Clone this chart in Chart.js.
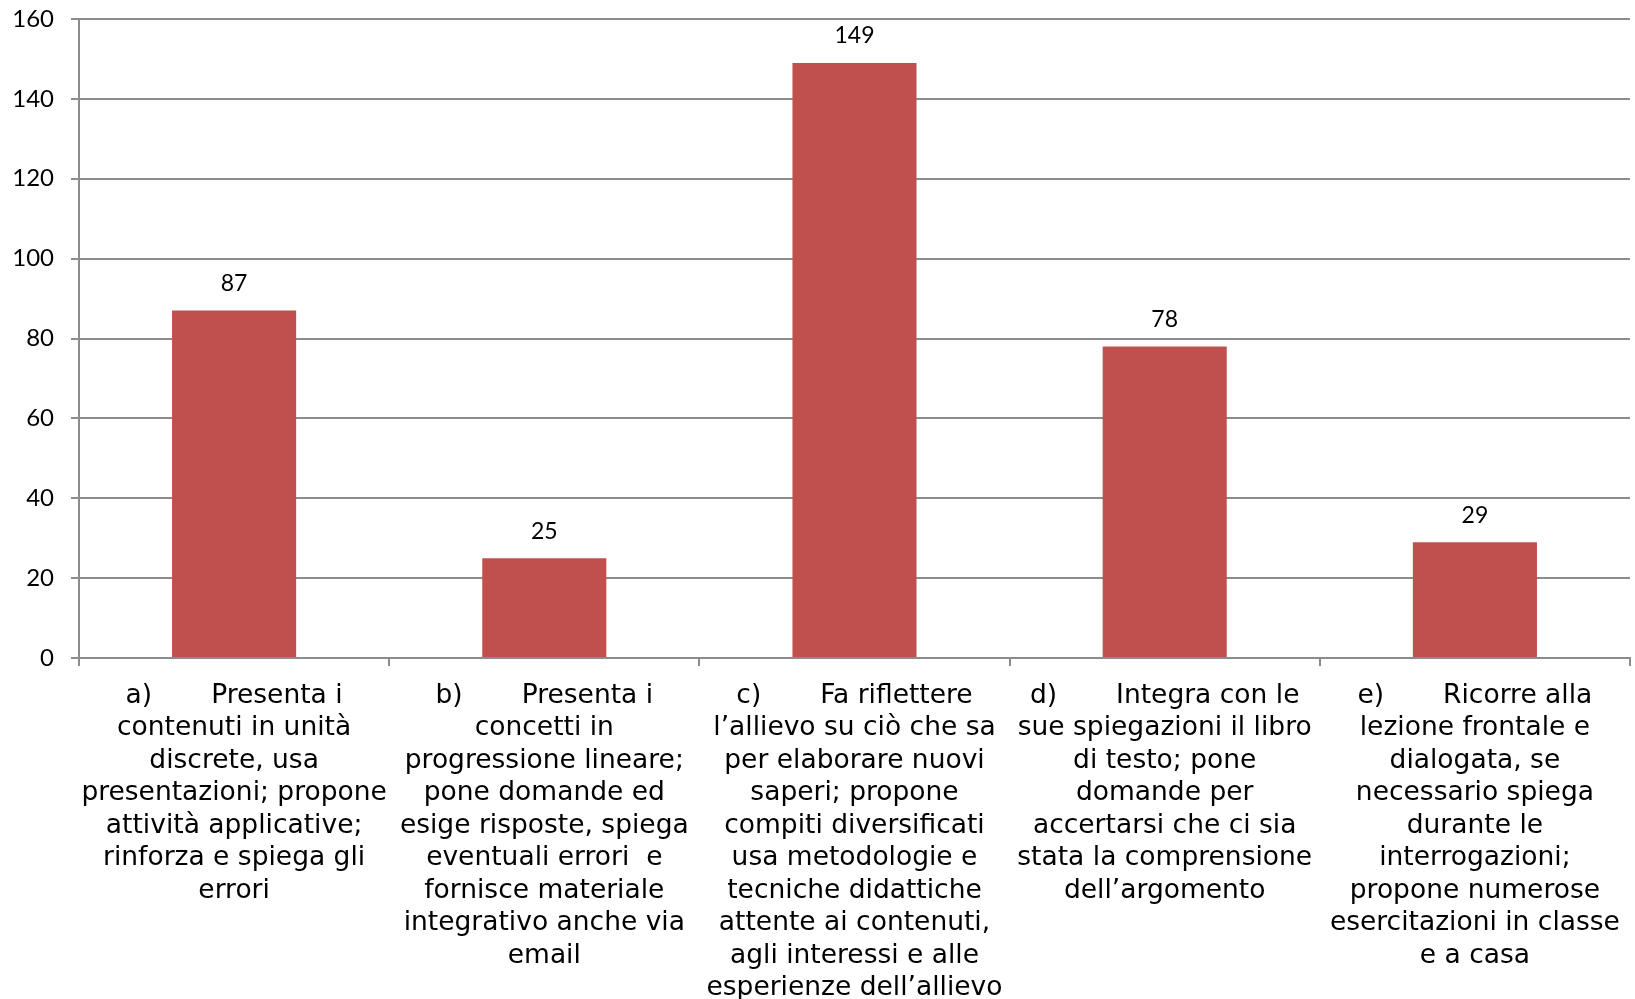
<!DOCTYPE html>
<html>
<head>
<meta charset="utf-8">
<title>Metodologie didattiche</title>
<script src="https://cdn.jsdelivr.net/npm/chart.js@4.4.1/dist/chart.umd.min.js"></script>
<style>
  html, body { margin: 0; padding: 0; background: #fff; }
  #wrap { width: 1635px; height: 999px; position: relative; }
</style>
</head>
<body>
<div id="wrap"><canvas id="canvas1"></canvas></div>
<script>
var categories = [
  ['a)       Presenta i', 'contenuti in unità', 'discrete, usa', 'presentazioni; propone', 'attività applicative;', 'rinforza e spiega gli', 'errori'],
  ['b)       Presenta i', 'concetti in', 'progressione lineare;', 'pone domande ed', 'esige risposte, spiega', 'eventuali errori  e', 'fornisce materiale', 'integrativo anche via', 'email'],
  ['c)       Fa riflettere', 'l’allievo su ciò che sa', 'per elaborare nuovi', 'saperi; propone', 'compiti diversificati', 'usa metodologie e', 'tecniche didattiche', 'attente ai contenuti,', 'agli interessi e alle', 'esperienze dell’allievo'],
  ['d)       Integra con le', 'sue spiegazioni il libro', 'di testo; pone', 'domande per', 'accertarsi che ci sia', 'stata la comprensione', 'dell’argomento'],
  ['e)       Ricorre alla', 'lezione frontale e', 'dialogata, se', 'necessario spiega', 'durante le', 'interrogazioni;', 'propone numerose', 'esercitazioni in classe', 'e a casa']
];
var values = [87, 25, 149, 78, 29];
var yTicks = [0, 20, 40, 60, 80, 100, 120, 140, 160];

var GRID = '#8c8c8c';
var LABEL_SIZE = 26.5;
var LINE = 32.5;

// value labels above the bars
var barValues = {
  id: 'barValues',
  afterDatasetsDraw: function (chart) {
    var ctx = chart.ctx;
    var meta = chart.getDatasetMeta(0);
    ctx.save();
    ctx.font = '23px Lato, "Open Sans", sans-serif';
    ctx.fillStyle = '#000';
    ctx.textAlign = 'center';
    ctx.textBaseline = 'middle';
    meta.data.forEach(function (bar, i) {
      ctx.fillText(String(values[i]), bar.x, bar.y - 27);
    });
    ctx.restore();
  }
};

new Chart(document.getElementById('canvas1'), {
  type: 'bar',
  data: {
    labels: categories,
    datasets: [{
      data: values,
      backgroundColor: '#C0504D',
      borderWidth: 0,
      barPercentage: 0.4,
      categoryPercentage: 1
    }]
  },
  options: {
    responsive: true,
    maintainAspectRatio: false,
    animation: false,
    layout: { padding: { top: 0, right: 5, left: 0, bottom: 0 } },
    plugins: {
      legend: { display: false },
      tooltip: { enabled: false }
    },
    scales: {
      x: {
        grid: {
          offset: true,
          drawOnChartArea: false,
          drawTicks: true,
          tickLength: 8,
          color: GRID,
          lineWidth: 2
        },
        border: { color: GRID, width: 2 },
        ticks: {
          autoSkip: false,
          maxRotation: 0,
          minRotation: 0,
          padding: 13.5,
          color: '#000',
          font: { family: '"DejaVu Sans", Verdana, sans-serif', size: LABEL_SIZE, lineHeight: LINE / LABEL_SIZE }
        },
        afterFit: function (s) { s.height = 999 - 658; }
      },
      y: {
        min: 0,
        max: 160,
        afterBuildTicks: function (s) {
          s.ticks = yTicks.map(function (v) { return { value: v }; });
        },
        grid: { color: GRID, lineWidth: 2, tickLength: 8 },
        border: { color: GRID, width: 2 },
        ticks: {
          padding: 17,
          color: '#000',
          font: { family: 'Lato, "Open Sans", sans-serif', size: 24 }
        },
        // fixed axis box so the plot sits where the original one does
        afterFit: function (s) {
          s.width = 79;
          s.paddingTop = 19;
          s.paddingBottom = 0;
        }
      }
    }
  },
  plugins: [barValues]
});
</script>
</body>
</html>
